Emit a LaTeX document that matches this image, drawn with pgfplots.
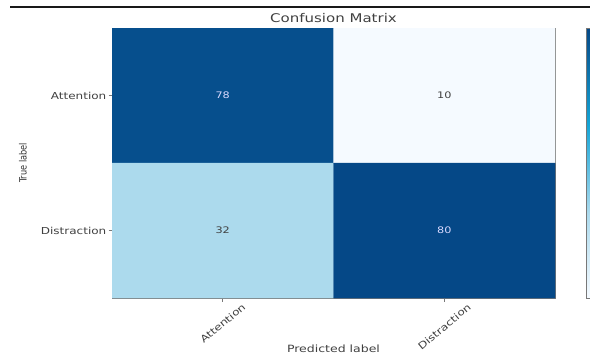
\documentclass[border=0pt]{standalone}
\usepackage{pgfplots}
\pgfplotsset{compat=1.18}
\usepackage{fontspec}
\setmainfont{DejaVu Sans}[FakeStretch=1.25]
\newfontfamily\condfont{DejaVu Sans}[FakeStretch=0.82]
\definecolor{spine}{RGB}{120,120,120}
\pgfplotsset{
  colormap={cmblues}{rgb255(0)=(245,250,255) rgb255(22)=(172,218,237) rgb255(45)=(20,165,215) rgb255(70)=(5,72,135)}
}
\begin{document}
\begin{tikzpicture}
\useasboundingbox (0,0) rectangle (590bp,355bp);
\draw[line width=1.8bp, black!90] (10bp,348bp) -- (590bp,348bp);
\begin{axis}[
  at={(112bp,57bp)}, anchor=south west,
  scale only axis, width=443bp, height=270bp,
  xmin=-0.5, xmax=1.5, ymin=-0.5, ymax=1.5,
  y dir=reverse,
  axis line style={spine, line width=0.8bp},
  xtick={0,1}, ytick={0,1},
  xticklabels={\rotatebox{40}{Attention},\rotatebox{40}{Distraction}},
  yticklabels={Attention,Distraction},
  tick align=outside, tick pos=left,
  major tick length=3.5bp,
  tick style={spine, line width=0.8bp},
  ticklabel style={font=\fontsize{9.6bp}{11bp}\selectfont, text=black!75},
  xticklabel style={anchor=north, inner sep=0.5bp, yshift=-0.5bp},
  yticklabel style={anchor=east, inner sep=1bp, xshift=-1bp},
  title={Confusion Matrix},
  title style={at={(axis description cs:0.5,1.015)}, anchor=center, font=\fontsize{12bp}{14bp}\selectfont, text=black!75},
  xlabel={Predicted label},
  xlabel style={at={(axis description cs:0.5,-0.189)}, anchor=center, font=\fontsize{10bp}{12bp}\selectfont, text=black!75},
  ylabel={True label},
  ylabel style={at={(axis description cs:-0.201,0.5)}, anchor=center, font=\condfont\fontsize{10bp}{12bp}\selectfont, text=black!80},
  colormap name=cmblues,
  point meta min=10, point meta max=80,
  colorbar,
  colorbar style={
    at={(parent axis.north east)}, anchor=north west, xshift=22.5bp,
    width=14bp, ytick=\empty, xtick=\empty,
    axis line style={spine, line width=0.6bp},
  },
]
\addplot[matrix plot*, mesh/cols=2, point meta=explicit] table[meta=C] {
x y C
0 0 78
1 0 10
0 1 32
1 1 80
};
\addplot[only marks, mark=none, nodes near coords, point meta=explicit symbolic,
  nodes near coords style={anchor=center, text=white!85!blue, font=\fontsize{9bp}{10bp}\selectfont}]
  table[meta=label] {
x y label
0 0 78
1 1 80
};
\addplot[only marks, mark=none, nodes near coords, point meta=explicit symbolic,
  nodes near coords style={anchor=center, text=black!75, font=\fontsize{9bp}{10bp}\selectfont}]
  table[meta=label] {
x y label
1 0 10
0 1 32
};
\end{axis}
\end{tikzpicture}
\end{document}
